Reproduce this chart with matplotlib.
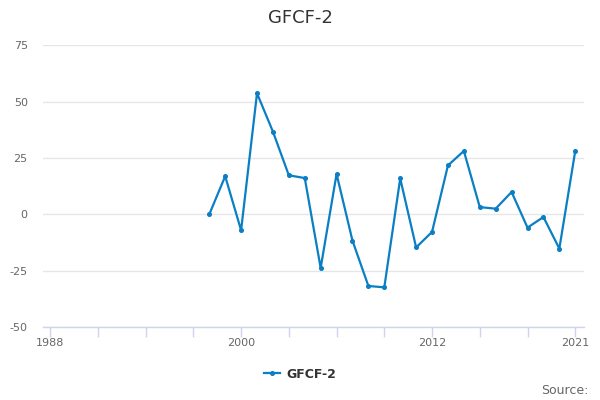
import matplotlib
matplotlib.use("Agg")
import matplotlib.pyplot as plt
from matplotlib.lines import Line2D

years = list(range(1998, 2022))
values = [0.0, 16.9, -7.1, 53.7, 36.7, 17.3, 16.1, -23.8, 17.9, -11.7, -31.8, -32.4,
          15.9, -14.7, -7.8, 21.7, 28.1, 3.2, 2.5, 9.9, -5.9, -1.2, -15.2, 28.1]
series_name = "GFCF-2"
title = "GFCF-2"
y_ticks = [-50, -25, 0, 25, 50, 75]
x_ticks = list(range(1988, 2022, 3))
x_labeled = {1988: "1988", 2000: "2000", 2012: "2012", 2021: "2021"}

plt.rcParams['font.family'] = ['DejaVu Sans']
blue = "#0a7fc4"

fig = plt.figure(figsize=(6, 4), dpi=100)
ax = fig.add_axes([43/600, 1-327/400, 541/600, (327-45.3)/400])
ax.plot(years, values, color=blue, lw=1.6, marker='o', ms=2.6, mfc=blue, mec=blue)

ax.set_xlim(1987.55, 2021.55)
ax.set_ylim(-50, 75)
ax.set_yticks(y_ticks)
ax.set_yticklabels([str(v) for v in y_ticks])
ax.set_xticks(x_ticks)
ax.set_xticklabels([x_labeled.get(x, "") for x in x_ticks])

ax.grid(axis='y', color='#e6e6e6', lw=1)
ax.set_axisbelow(True)
for s in ['top', 'right', 'left']:
    ax.spines[s].set_visible(False)
ax.spines['bottom'].set_color('#ccd6eb')
ax.spines['bottom'].set_linewidth(1)
ax.tick_params(axis='y', length=0, pad=11, labelsize=8, labelcolor='#666666')
ax.tick_params(axis='x', length=7, width=1, color='#ccd6eb', pad=1, labelsize=8, labelcolor='#666666')

fig.text(0.5, 1-18/400, title, ha='center', va='center', fontsize=13, color='#333333')

handle = Line2D([0], [0], color=blue, lw=1.6, marker='o', ms=2.6)
fig.legend([handle], [series_name], loc='center', bbox_to_anchor=(0.5, 1-374/400),
           frameon=False, handlelength=1.3, handletextpad=0.5,
           prop={'size': 9, 'weight': 'bold'}, labelcolor='#333333')

fig.text(589/600, 1-390/400, "Source:", ha='right', va='center', fontsize=9, color='#666666')

fig.savefig("out.png", dpi=100)
